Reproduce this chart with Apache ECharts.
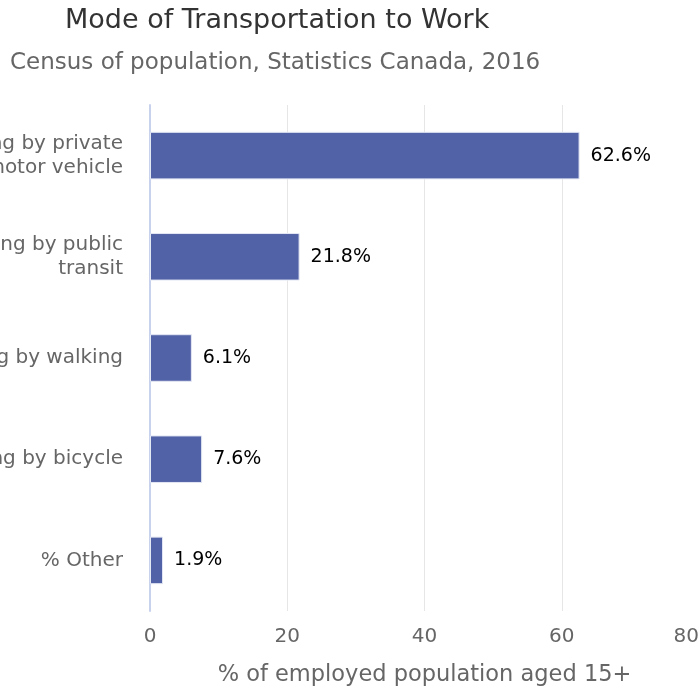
<!DOCTYPE html>
<html>
<head>
<meta charset="utf-8">
<script src="https://cdn.jsdelivr.net/npm/echarts@6/dist/echarts.min.js"></script>
<style>
  html, body { margin: 0; padding: 0; background: #fff; }
  #chart { width: 699px; height: 689px; }
</style>
</head>
<body>
<div id="chart"></div>
<script>
  // categories, top to bottom
  var categories = [
    'Commuting by private\nmotor vehicle',
    'Commuting by public\ntransit',
    'Commuting by walking',
    'Commuting by bicycle',
    '% Other'
  ];
  var shares = [62.6, 21.8, 6.1, 7.6, 1.9];
  var xTicks = [0, 20, 40, 60, 80];

  var FONT = 'DejaVu Sans';
  var chartDom = document.getElementById('chart');
  var myChart = echarts.init(chartDom);

  var option = {
    animation: false,
    title: [
      {
        text: 'Mode of Transportation to Work',
        left: 60, top: 2,
        textStyle: { fontFamily: FONT, fontSize: 27, fontWeight: 'normal', color: '#333' }
      },
      {
        text: 'Census of population, Statistics Canada, 2016',
        left: 5, top: 47,
        textStyle: { fontFamily: FONT, fontSize: 23, fontWeight: 'normal', color: '#666' }
      }
    ],
    grid: { left: 150, right: 0, top: 105, bottom: 78, containLabel: false, outerBoundsMode: 'none' },
    xAxis: {
      type: 'value',
      min: xTicks[0], max: xTicks[xTicks.length - 1], interval: 20,
      name: '% of employed population aged 15+',
      nameLocation: 'middle', nameGap: 53,
      nameTextStyle: { fontFamily: FONT, fontSize: 22.5, color: '#666' },
      axisLine: { show: false },
      axisTick: { show: false },
      axisLabel: { fontFamily: FONT, fontSize: 20, color: '#666', margin: 16, showMaxLabel: true, alignMaxLabel: 'right' },
      splitLine: { lineStyle: { color: '#e6e6e6', width: 1 } }
    },
    yAxis: {
      type: 'category',
      data: categories,
      inverse: true,
      axisLine: { show: true, lineStyle: { color: '#c8d2ec', width: 2 } },
      axisTick: { show: false },
      axisLabel: { fontFamily: FONT, fontSize: 20, color: '#666', margin: 27, lineHeight: 24, align: 'right' }
    },
    series: [
      {
        type: 'bar',
        data: shares,
        barWidth: '47%',
        itemStyle: { color: '#5262a6', borderColor: '#e4e8f4', borderWidth: 1 },
        label: {
          show: true,
          position: 'right',
          distance: 11,
          formatter: function (p) { return p.value.toFixed(1) + '%'; },
          fontFamily: FONT, fontSize: 19, color: '#000', fontWeight: 'normal'
        }
      }
    ]
  };

  myChart.setOption(option);
</script>
</body>
</html>
